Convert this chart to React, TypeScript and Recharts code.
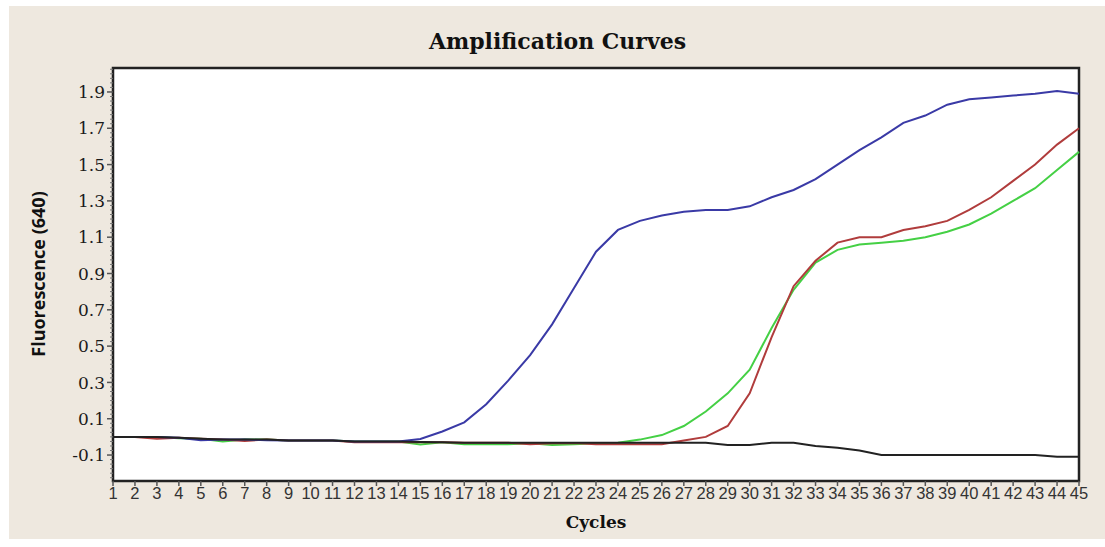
import { LineChart, Line, XAxis, YAxis, ReferenceArea } from "recharts";

// cycles 1..45
const cycles = [
  1, 2, 3, 4, 5, 6, 7, 8, 9, 10, 11, 12, 13, 14, 15, 16, 17, 18, 19, 20, 21, 22, 23,
  24, 25, 26, 27, 28, 29, 30, 31, 32, 33, 34, 35, 36, 37, 38, 39, 40, 41, 42, 43, 44, 45,
];

const blue = [
  0, 0, 0, -0.005, -0.018, -0.015, -0.015, -0.018, -0.02, -0.02, -0.02, -0.025, -0.025,
  -0.025, -0.012, 0.03, 0.08, 0.18, 0.31, 0.45, 0.62, 0.82, 1.02, 1.14, 1.19, 1.22, 1.24,
  1.25, 1.25, 1.27, 1.32, 1.36, 1.42, 1.5, 1.58, 1.65, 1.73, 1.77, 1.83, 1.86, 1.87, 1.88,
  1.89, 1.905, 1.89,
];

const red = [
  0, 0, -0.01, -0.005, -0.01, -0.015, -0.022, -0.015, -0.02, -0.02, -0.02, -0.03, -0.03,
  -0.03, -0.03, -0.03, -0.032, -0.032, -0.032, -0.04, -0.035, -0.034, -0.04, -0.04, -0.04,
  -0.04, -0.02, 0.0, 0.06, 0.24, 0.55, 0.83, 0.97, 1.07, 1.1, 1.1, 1.14, 1.16, 1.19, 1.25,
  1.32, 1.41, 1.5, 1.61, 1.7,
];

const green = [
  0, 0, 0, -0.008, -0.01, -0.025, -0.015, -0.015, -0.02, -0.02, -0.02, -0.025, -0.025,
  -0.025, -0.042, -0.03, -0.04, -0.04, -0.04, -0.035, -0.045, -0.04, -0.035, -0.032,
  -0.015, 0.01, 0.06, 0.14, 0.24, 0.37, 0.6, 0.81, 0.96, 1.03, 1.06, 1.07, 1.08, 1.1, 1.13,
  1.17, 1.23, 1.3, 1.37, 1.47, 1.57,
];

const black = [
  0, 0, 0, -0.005, -0.01, -0.015, -0.015, -0.015, -0.02, -0.02, -0.02, -0.025, -0.025,
  -0.025, -0.028, -0.03, -0.032, -0.032, -0.032, -0.032, -0.032, -0.032, -0.032, -0.032,
  -0.032, -0.032, -0.032, -0.032, -0.045, -0.045, -0.032, -0.032, -0.05, -0.06, -0.075,
  -0.1, -0.1, -0.1, -0.1, -0.1, -0.1, -0.1, -0.1, -0.11, -0.11,
];

const yMajor = [-0.1, 0.1, 0.3, 0.5, 0.7, 0.9, 1.1, 1.3, 1.5, 1.7, 1.9];
const yLabels = ["-0.1", "0.1", "0.3", "0.5", "0.7", "0.9", "1.1", "1.3", "1.5", "1.7", "1.9"];

const Y_MIN = -0.243;
const Y_MAX = 2.032;

// minor ticks every 0.025
const yTicks: number[] = [];
for (let i = -9; i <= 81; i++) yTicks.push(Math.round(i * 25) / 1000);

const data = cycles.map((c, i) => ({
  cycle: c,
  blue: blue[i],
  red: red[i],
  green: green[i],
  black: black[i],
}));

function YTick(props: any) {
  const { x, y, payload } = props;
  const idx = yMajor.findIndex((m) => Math.abs(m - payload.value) < 1e-6);
  if (idx >= 0) {
    return (
      <g>
        <line x1={x - 6} y1={y} x2={x} y2={y} stroke="#555" strokeWidth={1.5} />
        <text
          x={x - 8}
          y={y}
          dy="0.36em"
          textAnchor="end"
          fontFamily="'DejaVu Serif', serif"
          fontSize={17}
          fill="#1a1a1a"
        >
          {yLabels[idx]}
        </text>
      </g>
    );
  }
  return <line x1={x - 3} y1={y} x2={x} y2={y} stroke="#777" strokeWidth={1} />;
}

export default function App() {
  return (
    <div style={{ position: "fixed", left: 0, top: 0, width: 1105, height: 547, background: "#fff" }}>
      <div
        style={{
          position: "absolute",
          left: 9,
          top: 6,
          width: 1096,
          height: 533,
          background: "#EEE8DF",
        }}
      />
      <div
        style={{
          position: "absolute",
          left: 0,
          width: 1105,
          top: 28,
          textAlign: "center",
          fontFamily: "'DejaVu Serif', serif",
          fontWeight: 700,
          fontSize: 22,
          lineHeight: "26px",
          color: "#111",
          paddingLeft: 5,
        }}
      >
        Amplification Curves
      </div>
      <div
        style={{
          position: "absolute",
          left: 38,
          top: 274,
          transform: "translate(-50%, -50%) rotate(-90deg)",
          whiteSpace: "nowrap",
          fontFamily: "'Open Sans', sans-serif",
          fontWeight: 700,
          fontSize: 18,
          color: "#111",
        }}
      >
        Fluorescence (640)
      </div>
      <div
        style={{
          position: "absolute",
          left: 596,
          top: 512,
          transform: "translateX(-50%)",
          fontFamily: "'DejaVu Serif', serif",
          fontWeight: 700,
          fontSize: 17,
          color: "#111",
        }}
      >
        Cycles
      </div>
      <div style={{ position: "absolute", left: 0, top: 0 }}>
        <LineChart
          width={1105}
          height={547}
          data={data}
          margin={{ top: 68, right: 26, bottom: 30, left: 53 }}
        >
          <XAxis
            dataKey="cycle"
            type="number"
            domain={[1, 45]}
            ticks={cycles}
            interval={0}
            height={36}
            axisLine={false}
            tickSize={5}
            tickMargin={1}
            tickLine={{ stroke: "#555", strokeWidth: 1.5 }}
            tick={{ fontFamily: "'Liberation Sans', Arial, sans-serif", fontSize: 16.5, fill: "#333" }}
          />
          <YAxis
            type="number"
            domain={[Y_MIN, Y_MAX]}
            ticks={yTicks}
            interval={0}
            width={60}
            axisLine={false}
            tickLine={false}
            tickSize={0}
            tickMargin={0}
            tick={<YTick />}
            allowDataOverflow
          />
          <ReferenceArea
            x1={1}
            x2={45}
            y1={Y_MIN}
            y2={Y_MAX}
            fill="#fff"
            fillOpacity={1}
            stroke="#222"
            strokeWidth={2.5}
            ifOverflow="visible"
          />
          <Line
            dataKey="green"
            stroke="#45D045"
            strokeWidth={2}
            dot={false}
            type="linear"
            isAnimationActive={false}
          />
          <Line
            dataKey="red"
            stroke="#B03C3C"
            strokeWidth={2}
            dot={false}
            type="linear"
            isAnimationActive={false}
          />
          <Line
            dataKey="blue"
            stroke="#3A3AA6"
            strokeWidth={2}
            dot={false}
            type="linear"
            isAnimationActive={false}
          />
          <Line
            dataKey="black"
            stroke="#222"
            strokeWidth={2}
            dot={false}
            type="linear"
            isAnimationActive={false}
          />
        </LineChart>
      </div>
    </div>
  );
}
